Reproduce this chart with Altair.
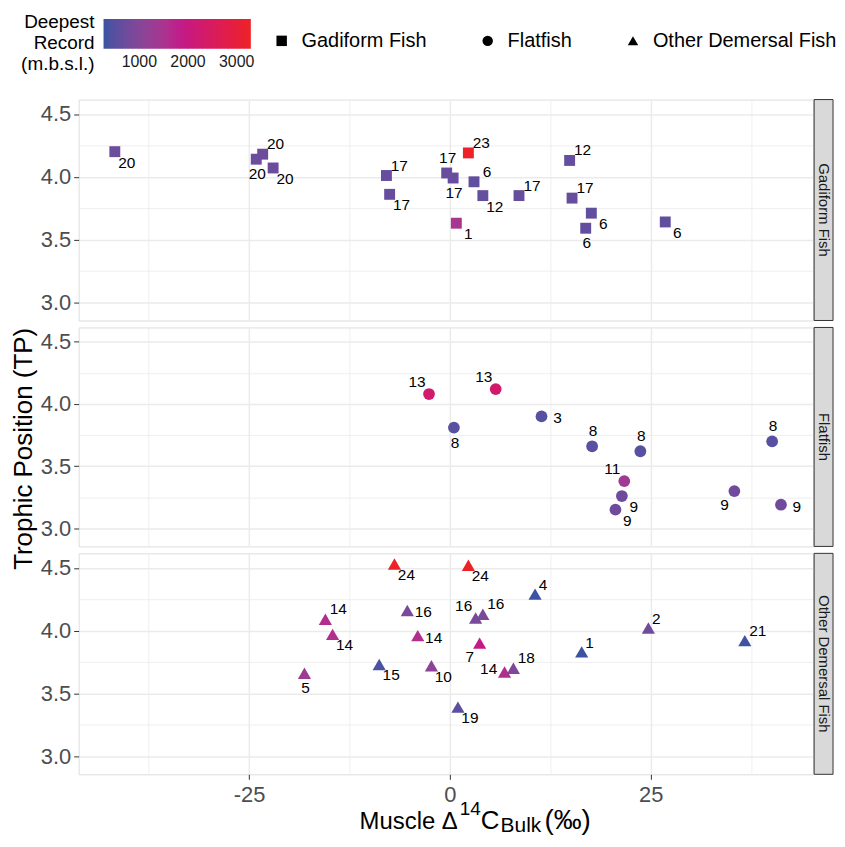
import altair as alt
import pandas as pd

GROUPS = ["Gadiform Fish", "Flatfish", "Other Demersal Fish"]
SHAPES = ["square", "circle", "triangle-up"]

# ---- Gadiform Fish ----
gad_x = [-41.7, -23.3, -24.1, -22.0, -7.9, -7.5, -0.4, 0.4, 0.8, 2.3, 3.0, 4.1, 8.6, 14.9, 15.2, 17.6, 16.9, 26.8]
gad_tp = [4.20, 4.18, 4.14, 4.07, 4.01, 3.86, 4.03, 3.99, 3.63, 4.19, 3.96, 3.85, 3.85, 4.13, 3.83, 3.71, 3.59, 3.64]
gad_id = [20, 20, 20, 20, 17, 17, 17, 17, 1, 23, 6, 12, 17, 12, 17, 6, 6, 6]
gad_depth = [700, 700, 700, 700, 650, 650, 650, 650, 1450, 3250, 600, 620, 650, 620, 650, 600, 600, 600]
gad_side = ["SE", "NE", "S", "SE", "NE", "SE", "N", "S", "SE", "NE", "NE", "SE", "NE", "NE", "NE", "SE", "S", "SE"]

# ---- Flatfish ----
flat_x = [-2.6, 5.7, 0.5, 11.4, 17.7, 23.7, 21.7, 21.4, 20.6, 35.4, 40.1, 41.2]
flat_tp = [4.08, 4.12, 3.81, 3.90, 3.66, 3.62, 3.38, 3.26, 3.15, 3.30, 3.70, 3.19]
flat_id = [13, 13, 8, 3, 8, 8, 11, 9, 9, 9, 8, 9]
flat_depth = [2300, 2300, 500, 500, 500, 500, 1350, 750, 750, 750, 500, 750]
flat_side = ["NW", "NW", "S", "E", "N", "N", "NW", "SE", "SE", "SW", "N", "E"]

# ---- Other Demersal Fish ----
oth_x = [-6.9, 2.3, 10.6, -15.5, -14.6, -18.1, -5.3, -4.0, -8.8, -2.3, 1.0, 3.2, 4.1, 3.7, 6.8, 7.9, 16.4, 24.7, 36.7]
oth_tp = [4.53, 4.52, 4.29, 4.09, 3.97, 3.66, 4.16, 3.96, 3.73, 3.72, 3.39, 4.10, 4.13, 3.90, 3.67, 3.70, 3.83, 4.02, 3.92]
oth_id = [24, 24, 4, 14, 14, 5, 16, 14, 15, 10, 19, 16, 16, 7, 14, 18, 1, 2, 21]
oth_depth = [3250, 3250, 280, 1600, 1600, 1300, 850, 1600, 380, 1100, 550, 850, 850, 1900, 1600, 900, 280, 750, 300]
oth_side = ["SE", "SE", "ne", "NE", "SE", "S", "E", "E", "SE", "SE", "SE", "NW", "NE", "SW", "W", "NE", "ne", "ne", "NE"]

COLOR_DOMAIN = [265, 1850, 3290]
COLOR_RANGE = ["#3A53A4", "#C2198A", "#EE2224"]
LEGEND_TICKS = [1000, 2000, 3000]
LEGEND_TITLE = ["Deepest", "Record", "(m.b.s.l.)"]

X_TICKS = [-37.5, -25, -12.5, 0, 12.5, 25, 37.5]
Y_TICKS = [3.0, 3.25, 3.5, 3.75, 4.0, 4.25, 4.5]

OFFSETS = {"NE": (13, -10), "ne": (8, -9), "SE": (12, 11), "S": (1, 15), "N": (1, -15),
           "NW": (-12, -12), "SW": (-10, 14), "E": (16, 2), "W": (-16, -3)}

PW = 738
HEIGHTS = [222, 220, 222]
FONT = "Liberation Sans"

panels_data = [
    (gad_x, gad_tp, gad_id, gad_depth, gad_side, 120),
    (flat_x, flat_tp, flat_id, flat_depth, flat_side, 140),
    (oth_x, oth_tp, oth_id, oth_depth, oth_side, 175),
]

major_x = "datum.value % 25 === 0"
major_y = "round(datum.value * 2) === datum.value * 2"

color_enc = alt.Color(
    "depth:Q",
    scale=alt.Scale(domain=COLOR_DOMAIN, range=COLOR_RANGE, interpolate="lab"),
    legend=alt.Legend(
        title=None, orient="none", legendX=25, legendY=-81,
        direction="horizontal", gradientLength=148, gradientThickness=30,
        gradientStrokeWidth=0, values=LEGEND_TICKS, format="d",
        labelFontSize=16, labelColor="#1A1A1A", labelFont=FONT, labelOffset=5,
    ),
)

shape_enc = alt.Shape(
    "group:N",
    scale=alt.Scale(domain=GROUPS, range=SHAPES),
    legend=alt.Legend(
        title=None, orient="none", legendX=194, legendY=-69,
        direction="horizontal", symbolFillColor="black", symbolStrokeColor="black",
        symbolStrokeWidth=0, symbolSize=110, labelFontSize=20, labelColor="black",
        labelFont=FONT, labelOffset=10, columnPadding=51, labelLimit=300,
    ),
)

rows = []
for i, (xs, ys, ids, deps, sides, size) in enumerate(panels_data):
    g = GROUPS[i]
    h = HEIGHTS[i]
    df = pd.DataFrame({"x": xs, "tp": ys, "id": ids, "depth": deps, "side": sides, "group": g})
    last = i == len(GROUPS) - 1
    x_axis = alt.Axis(
        values=X_TICKS, title=None,
        labels=last, ticks=last, domain=False,
        labelExpr=f"{major_x} ? '' + datum.value : ''",
        labelFontSize=22, labelColor="#4D4D4D", labelFont=FONT, labelPadding=5,
        labelOverlap=False, labelFlush=False,
        tickColor={"condition": {"test": major_x, "value": "#333333"}, "value": "transparent"},
        tickSize=5,
        gridColor="#EBEBEB",
        gridWidth={"condition": {"test": major_x, "value": 1.5}, "value": 0.8},
    )
    y_axis = alt.Axis(
        values=Y_TICKS, title=None, domain=False,
        labelExpr=f"{major_y} ? format(datum.value, '.1f') : ''",
        labelFontSize=22, labelColor="#4D4D4D", labelFont=FONT, labelPadding=3,
        labelOverlap=False, labelFlush=False,
        tickColor={"condition": {"test": major_y, "value": "#333333"}, "value": "transparent"},
        tickSize=5,
        gridColor="#EBEBEB",
        gridWidth={"condition": {"test": major_y, "value": 1.5}, "value": 0.8},
    )
    base = alt.Chart(df).encode(
        x=alt.X("x:Q", scale=alt.Scale(domain=[-46.2, 45.2], nice=False, zero=False), axis=x_axis),
        y=alt.Y("tp:Q", scale=alt.Scale(domain=[2.855, 4.615], nice=False, zero=False), axis=y_axis),
    )
    pts = base.mark_point(filled=True, size=size, opacity=1).encode(color=color_enc, shape=shape_enc)
    layers = [pts]
    for code in sorted(set(sides)):
        dx, dy = OFFSETS[code]
        layers.append(
            base.mark_text(dx=dx, dy=dy, fontSize=15.5, font=FONT, color="black")
            .encode(text="id:N")
            .transform_filter(alt.datum.side == code)
        )
    strip_df = pd.DataFrame({"group": [g]})
    layers.append(
        alt.Chart(strip_df).mark_rect(fill="#D9D9D9", stroke="#333333", strokeWidth=1).encode(
            x=alt.value(PW + 1), x2=alt.value(PW + 20), y=alt.value(0), y2=alt.value(h)
        )
    )
    layers.append(
        alt.Chart(strip_df).mark_text(angle=90, fontSize=15, font=FONT, color="#1A1A1A",
                                      baseline="middle", align="center").encode(
            x=alt.value(PW + 10.5), y=alt.value(h / 2), text="group:N"
        )
    )
    if i == 0:
        for k, line in enumerate(LEGEND_TITLE):
            layers.append(
                alt.Chart(strip_df).mark_text(fontSize=19, font=FONT, color="black",
                                              baseline="middle", align="right", text=line).encode(
                    x=alt.value(16), y=alt.value(-78 + 21 * k)
                )
            )
    if i == 1:
        layers.append(
            alt.Chart(strip_df).mark_text(angle=270, fontSize=26, font=FONT, color="black",
                                          baseline="middle", align="center",
                                          text="Trophic Position (TP)").encode(
                x=alt.value(-55), y=alt.value(h / 2 + 12)
            )
        )
    if last:
        title_parts = [
            ("Muscle Δ", 24, 381, 55, "right"),
            ("14", 19, 383, 41, "left"),
            ("C", 26, 404, 55, "left"),
            ("Bulk", 21, 424, 58, "left"),
            ("(‰)", 28, 468, 55, "left"),
        ]
        for txt, fs, xo, yo, al in title_parts:
            layers.append(
                alt.Chart(strip_df).mark_text(fontSize=fs, font=FONT, color="black",
                                              baseline="alphabetic", align=al, text=txt).encode(
                    x=alt.value(xo), y=alt.value(h + yo)
                )
            )
    rows.append(alt.layer(*layers).properties(width=PW, height=h))

chart = alt.vconcat(*rows, spacing=7, bounds="flush").resolve_scale(
    color="shared", shape="shared"
).configure_view(stroke="black", strokeWidth=1.1).configure(
    padding={"left": 2, "top": 2, "right": 0, "bottom": 0}, font=FONT
)

chart.save("out.html", embed_options={"renderer": "svg", "actions": False})
